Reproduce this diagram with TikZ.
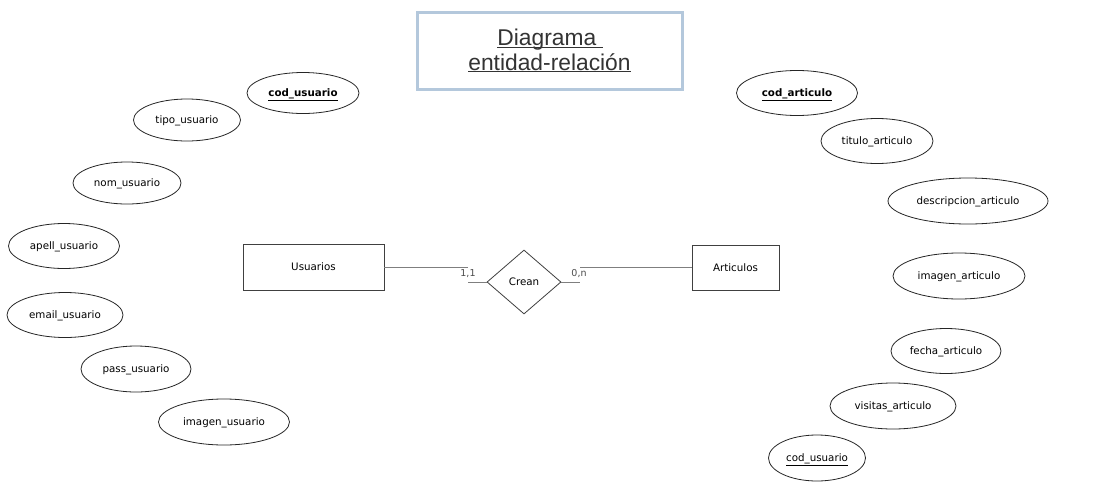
\documentclass[tikz,border=0pt]{standalone}
\usepackage{fontspec}
\setmainfont{DejaVu Sans}
\newfontfamily\titlefont{Liberation Sans}
\usetikzlibrary{shapes.geometric}
\definecolor{titleblue}{HTML}{B4C8DC}
\definecolor{linegray}{HTML}{7F7F7F}
\definecolor{titletext}{HTML}{333333}
\newcommand{\myul}[1]{\setbox0\hbox{#1}\rlap{\rule[-2.2pt]{\wd0}{1.1pt}}\box0}
\tikzset{
  attr/.style={ellipse,draw=black!85,line width=0.8pt,inner sep=0pt,text height=8pt,text depth=1pt,font=\fontsize{10.3}{12}\selectfont},
  entity/.style={rectangle,draw=black!75,line width=0.8pt,inner sep=0pt,font=\fontsize{10.3}{12}\selectfont},
  rel/.style={diamond,draw=black!75,line width=0.8pt,inner sep=0pt,aspect=1.156,font=\fontsize{10.3}{12}\selectfont},
  conn/.style={draw=linegray,line width=0.8pt},
  card/.style={font=\fontsize{9.5}{10}\selectfont,text=black!70,inner sep=0pt},
  titletxt/.style={font=\titlefont\fontsize{22.8}{24.5}\selectfont,text=titletext,inner sep=0pt,anchor=base},
}
\begin{document}
\begin{tikzpicture}[x=1pt,y=-1pt]
\useasboundingbox (0,0) rectangle (1111,498);
\fill[white] (0,0) rectangle (1111,498);
% title
\node[draw=titleblue,line width=3pt,minimum width=265pt,minimum height=77pt,inner sep=0pt] (titlebox) at (549.5,50.5) {};
\node[titletxt] (title1) at (550,45.5) {\myul{Diagrama\ }};
\node[titletxt] (title2) at (549.5,70) {\myul{entidad-relación}};
% entities
\node[entity,minimum width=141pt,minimum height=46pt] (usu) at (313.5,267) {Usuarios};
\node[entity,minimum width=87pt,minimum height=45pt] (art) at (735.5,267.5) {Articulos};
\node[rel,minimum width=74pt,minimum height=64pt] (crean) at (524,282) {Crean};
\coordinate (c1) at (468,267);
\coordinate (c2) at (468,282);
\coordinate (c3) at (580,282);
\coordinate (c4) at (580,267);
\draw[conn] (usu.east |- c1) -- (c1);
\draw[conn] (c2) -- (crean.west);
\draw[conn] (crean.east) -- (c3);
\draw[conn] (c4) -- (art.west |- c4);
\node[card] (l11) at (468,274) {1,1};
\node[card] (l0n) at (579,274) {0,n};
% usuario attributes
\node[attr,minimum width=112pt,minimum height=41pt] (a1) at (303,93) {\textbf{\underline{cod\_usuario}}};
\node[attr,minimum width=107pt,minimum height=42pt] (a2) at (187,120) {tipo\_usuario};
\node[attr,minimum width=108pt,minimum height=42pt] (a3) at (127,183) {nom\_usuario};
\node[attr,minimum width=111pt,minimum height=45pt] (a4) at (64,246) {apell\_usuario};
\node[attr,minimum width=116pt,minimum height=45pt] (a5) at (65,315) {email\_usuario};
\node[attr,minimum width=110pt,minimum height=46pt] (a6) at (136,369) {pass\_usuario};
\node[attr,minimum width=131pt,minimum height=46pt] (a7) at (224,422) {imagen\_usuario};
% articulo attributes
\node[attr,minimum width=121pt,minimum height=45pt] (b1) at (797,93) {\textbf{\underline{cod\_articulo}}};
\node[attr,minimum width=112pt,minimum height=45pt] (b2) at (877,141) {titulo\_articulo};
\node[attr,minimum width=160pt,minimum height=46pt] (b3) at (968,201) {descripcion\_articulo};
\node[attr,minimum width=132pt,minimum height=46pt] (b4) at (959,276) {imagen\_articulo};
\node[attr,minimum width=110pt,minimum height=45pt] (b5) at (946,351) {fecha\_articulo};
\node[attr,minimum width=126pt,minimum height=46pt] (b6) at (893,406) {visitas\_articulo};
\node[attr,minimum width=97pt,minimum height=46pt] (b7) at (817,458) {\underline{cod\_usuario}};
\end{tikzpicture}
\end{document}
